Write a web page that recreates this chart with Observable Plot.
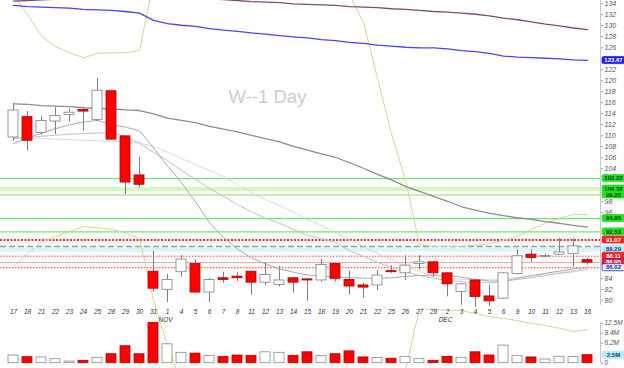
<!DOCTYPE html>
<html><head><meta charset="utf-8">
<script src="https://cdn.jsdelivr.net/npm/d3@7"></script>
<script src="https://cdn.jsdelivr.net/npm/@observablehq/plot@0.6"></script>
<style>
body{margin:0;background:#fff;}
#wrap{position:relative;width:624px;height:368px;overflow:hidden;background:#fff;}
#wrap svg{position:absolute;left:0;}
</style>
</head><body>
<div id="wrap"></div>
<script>
// ---------- data ----------
const dates = ["2019-10-17","2019-10-18","2019-10-21","2019-10-22","2019-10-23","2019-10-24","2019-10-25","2019-10-28","2019-10-29","2019-10-30","2019-10-31",
"2019-11-01","2019-11-04","2019-11-05","2019-11-06","2019-11-07","2019-11-08","2019-11-11","2019-11-12","2019-11-13","2019-11-14","2019-11-15","2019-11-18","2019-11-19","2019-11-20","2019-11-21","2019-11-22","2019-11-25","2019-11-26","2019-11-27","2019-11-29",
"2019-12-02","2019-12-03","2019-12-04","2019-12-05","2019-12-06","2019-12-09","2019-12-10","2019-12-11","2019-12-12","2019-12-13","2019-12-16"];
const dayLabels = ["17","18","21","22","23","24","25","28","29","30","31","1","4","5","6","7","8","11","12","13","14","15","18","19","20","21","22","25","26","27","29","2","3","4","5","6","9","10","11","12","13","16"];
const monthTicks = ["2019-11-01","2019-12-02"];
const monthLabels = ["NOV","DEC"];

const open  = [109.7,113.4,110.5,112.6,113.8,114.7,112.9,118.1,109.9,102.8,85.3,82.0,85.2,86.7,81.5,84.1,84.4,85.3,83.3,82.9,84.1,83.9,83.7,86.7,83.8,82.8,82.8,85.4,85.0,86.7,87.0,85.0,81.6,83.7,80.8,80.4,84.9,88.4,87.95,88.4,88.5,87.4];
const high  = [115.9,114.4,113.5,115.1,114.9,115.1,120.4,118.3,110.0,106.1,89.0,84.8,88.2,87.5,84.1,85.2,85.2,85.4,86.9,86.2,84.2,84.0,87.5,86.9,85.4,83.2,85.5,86.4,88.2,88.2,87.1,85.1,83.2,83.8,82.8,85.1,89.3,89.3,88.5,91.3,91.3,87.8];
const low   = [109.0,107.2,110.1,110.2,112.5,110.8,112.6,109.2,99.3,100.5,81.6,79.7,84.3,81.4,79.7,83.2,83.5,81.0,82.8,82.5,81.4,79.9,83.4,83.4,81.1,80.5,81.9,85.0,83.7,85.6,84.3,80.7,79.2,78.8,79.0,80.3,84.7,87.0,87.8,88.3,86.2,86.5];
const close = [114.6,109.1,112.7,113.6,114.2,114.4,118.2,109.3,101.5,101.1,82.2,83.8,87.5,81.5,83.8,83.8,84.1,83.3,84.7,83.7,83.3,83.7,86.5,84.0,82.6,82.4,84.6,85.2,86.4,87.0,85.0,83.0,83.0,80.7,79.9,85.0,88.1,87.8,88.15,88.8,89.9,86.95];
const volumeM = [2.4,1.9,1.8,1.25,0.5,0.75,1.7,2.8,5.3,2.8,12.6,5.9,3.25,3.0,2.3,1.9,2.4,2.3,3.4,3.25,2.3,3.4,2.2,2.8,3.7,1.8,1.6,1.4,2.0,1.25,0.75,2.0,1.7,3.4,2.4,5.5,2.3,1.8,1.15,2.0,1.9,2.5];

const maBlue   = [133.7,133.5,133.4,133.3,133.2,133.0,132.9,132.8,132.6,132.3,131.0,130.4,130.1,129.9,129.5,129.2,129.0,128.7,128.5,128.2,128.0,127.8,127.5,127.3,127.0,126.8,126.5,126.3,126.1,126.0,126.0,125.8,125.5,125.3,125.0,124.5,124.3,124.2,124.1,124.0,123.8,123.7];
const maPurple = [134.5,134.6,134.7,134.8,134.9,135.0,135.0,135.0,135.0,135.0,135.0,135.0,135.0,135.0,134.9,134.75,134.6,134.4,134.3,134.2,134.0,133.9,133.8,133.7,133.5,133.4,133.3,133.1,133.0,132.8,132.6,132.5,132.3,132.1,131.8,131.4,131.1,130.7,130.3,130.0,129.6,129.3];
const maDark   = [115.8,115.7,115.5,115.4,115.3,115.1,115.0,114.9,114.7,114.6,114.0,113.2,112.8,112.4,111.7,111.2,110.7,110.1,109.5,108.9,108.1,107.4,106.7,106.1,105.1,104.1,103.0,102.0,100.8,99.9,99.0,98.1,97.1,96.5,95.9,95.5,95.1,94.8,94.4,94.1,93.7,93.4];
const ma10     = [108.6,109.6,110.5,111.3,112.0,112.5,112.8,112.0,111.6,110.9,107.8,104.5,101.5,98.0,94.2,91.5,89.4,87.8,86.7,85.8,85.2,84.7,84.5,84.3,84.2,84.1,84.1,84.2,84.4,84.6,84.7,84.6,84.3,83.9,83.6,83.6,84.1,84.6,85.0,85.4,85.8,86.1];
const ma15     = [109.5,109.7,109.9,110.1,110.3,110.4,110.5,110.6,109.9,108.6,107.0,105.5,103.7,102.1,100.4,99.0,97.5,96.2,95.0,94.1,93.0,91.9,91.3,90.6,89.1,88.1,87.0,86.1,85.3,84.6,84.1,83.7,83.5,83.3,83.3,83.5,83.9,84.2,84.6,85.0,85.3,85.7];
const ma20     = [109.7,109.6,109.5,109.4,109.3,109.2,109.1,109.0,108.9,108.7,108.1,107.0,105.9,104.8,103.7,102.6,101.1,99.7,98.4,97.3,96.1,94.8,93.7,92.4,91.1,89.9,88.6,87.5,86.4,85.3,84.4,84.1,83.9,83.9,83.9,84.1,84.2,84.4,84.8,85.1,85.5,85.9];
const bbUpper  = [135.5,132.1,128.2,126.2,125.1,124.2,125.0,125.1,125.1,125.5,138.0,142.0,145.0,147.0,148.0,148.0,147.0,146.0,145.0,143.0,141.0,139.5,138.0,136.8,135.7,130.6,120.4,110.4,101.9,90.2,89.9,89.9,89.9,90.1,90.4,91.0,91.7,93.0,94.1,95.0,95.7,95.7];
const bbLower  = [86.2,88.6,90.6,91.7,92.6,93.5,93.3,93.0,92.4,91.3,80.1,71.9,65.0,62.0,60.5,60.0,60.5,61.0,61.5,62.0,62.5,63.0,63.5,64.0,64.5,65.0,65.5,66.0,67.5,78.6,78.4,78.3,78.2,77.7,77.1,76.8,76.4,75.9,75.5,75.0,74.4,74.8];

// axis ticks that are visible in the reference (others sit behind value boxes)
const priceTicks = [80,82,84,96,98,104,106,108,110,112,114,116,118,120,122,126,128,130,132,134];
const greenLevels = [102.22, 94.95, 92.53];
const paleGreenBand = [100.32];
const paleGreenLine = [99.25];
const redDottedThick = [91.07];
const greyDashed = [89.87];
const cyanBand = [89.29];
const redDottedThin = [88.11, 86.02];
const pinkLine = [86.95];

const priceLabelValues = [123.67, 102.22, 100.32, 99.25, 94.95, 92.53, 91.07, 89.29, 88.11, 86.95, 86.02];
const priceLabelTexts  = ["123.67","102.22","100.32","99.25","94.95","92.53","91.07","89.29","88.11","86.95","86.02"];
const priceLabelKinds  = ["blue","green","green","green","green","green","red","cyan","red","redblue","white"];

const volTicks = [0, 6.25e6, 9.375e6, 12.5e6];
const volTickLabels = ["0","6.2M","9.4M","12.5M"];
const volLabelValue = [2.5e6];
const volLabelText = ["2.5M"];

// ---------- build ----------
const rows = dates.map((d, i) => ({date: d, open: open[i], high: high[i], low: low[i], close: close[i], vol: volumeM[i] * 1e6, up: close[i] >= open[i]}));
const series = (arr) => dates.map((d, i) => ({date: d, v: arr[i]}));

const xOpts = {type: "band", domain: dates, paddingInner: 0.27, paddingOuter: 0.05, axis: null, label: null};
const W = 624;
const font = "Liberation Sans, Arial, sans-serif";

const price = Plot.plot({
  width: W, height: 368, marginTop: 0, marginLeft: 0, marginRight: 24, marginBottom: 63,
  style: {background: "transparent", fontFamily: font, fontSize: "7px", fontStyle: "italic", color: "#444", overflow: "hidden"},
  x: xOpts,
  y: {domain: [79.15, 134.6], axis: null, label: null},
  marks: [
    Plot.text(["W--1 Day"], {frameAnchor: "top-left", dx: 267, dy: 97, text: d => d, fontSize: 18.5, fontStyle: "normal", fill: "#cdcdcd", textAnchor: "middle", lineAnchor: "middle", fontFamily: font}),
    Plot.ruleY(paleGreenBand, {stroke: "#d3f6c2", strokeWidth: 4}),
    Plot.ruleY(paleGreenLine, {stroke: "#c4f0b2", strokeWidth: 2}),
    Plot.ruleY(greenLevels, {stroke: "#6fe86f", strokeWidth: 1.2}),
    Plot.ruleY(cyanBand, {stroke: "#d8f6ff", strokeWidth: 4}),
    Plot.ruleY(redDottedThick, {stroke: "#ff2a2a", strokeWidth: 2, strokeDasharray: "2,1.5"}),
    Plot.ruleY(greyDashed, {stroke: "#9a9a9a", strokeWidth: 1.5, strokeDasharray: "6,3"}),
    Plot.ruleY(redDottedThin, {stroke: "#ff4040", strokeWidth: 1, strokeDasharray: "1.5,1.5"}),
    Plot.ruleY(pinkLine, {stroke: "#f3a3a3", strokeWidth: 1}),
    Plot.line(series(bbUpper), {x: "date", y: "v", stroke: "#d6d49c", strokeWidth: 1}),
    Plot.line(series(bbLower), {x: "date", y: "v", stroke: "#d6d49c", strokeWidth: 1}),
    Plot.line(series(ma20), {x: "date", y: "v", stroke: "#cccccc", strokeWidth: 1, strokeDasharray: "1,1.5"}),
    Plot.line(series(ma15), {x: "date", y: "v", stroke: "#c2c2c2", strokeWidth: 1}),
    Plot.line(series(ma10), {x: "date", y: "v", stroke: "#ababab", strokeWidth: 1}),
    Plot.line(series(maDark), {x: "date", y: "v", stroke: "#8c8c8c", strokeWidth: 1.3}),
    Plot.line(series(maBlue), {x: "date", y: "v", stroke: "#4646f5", strokeWidth: 1.3}),
    Plot.line(series(maPurple), {x: "date", y: "v", stroke: "#7b4c7a", strokeWidth: 1.3}),
    Plot.ruleX(rows, {x: "date", y1: "low", y2: "high", stroke: "#7f7f7f", strokeWidth: 1}),
    Plot.barY(rows, {x: "date", y1: "open", y2: "close", fill: d => d.up ? "#ffffff" : "#ff0000", stroke: d => d.up ? "#808080" : "#b00000", strokeWidth: 0.8}),
    Plot.axisY({anchor: "right", ticks: priceTicks, tickSize: 2, tickPadding: 2, stroke: "#999", fontSize: 7, fill: "#555", label: null}),
    Plot.axisX({anchor: "bottom", tickSize: 0, tickPadding: 4, tickFormat: d => dayLabels[dates.indexOf(d)], fontSize: 6.5, fill: "#333", label: null}),
    Plot.axisX({anchor: "bottom", ticks: monthTicks, tickSize: 0, tickPadding: 11.5, tickFormat: d => monthLabels[monthTicks.indexOf(d)], fontSize: 6.5, fill: "#333", dx: -2, label: null})
  ]
});

const vol = Plot.plot({
  width: W, height: 50, marginTop: 4.7, marginBottom: 5.3, marginLeft: 0, marginRight: 24,
  style: {background: "transparent", fontFamily: font, fontSize: "7px", fontStyle: "italic", color: "#444"},
  x: xOpts,
  y: {domain: [0, 12.5e6], axis: null, label: null},
  marks: [
    Plot.barY(rows, {x: "date", y: "vol", fill: d => d.up ? "#ffffff" : "#ff0000", stroke: d => d.up ? "#8a8a8a" : "#b00000", strokeWidth: 0.8}),
    Plot.axisY({anchor: "right", ticks: volTicks, tickSize: 2, tickPadding: 2, tickFormat: d => volTickLabels[volTicks.indexOf(d)], stroke: "#999", fontSize: 6.5, fill: "#555", label: null})
  ]
});

const wrap = document.getElementById("wrap");
price.style.top = "0px";
vol.style.top = "318px";
wrap.appendChild(price);
wrap.appendChild(vol);

// right axis lines + value boxes drawn with the plots' own scales
const kindStyle = {
  blue: {bg: "#1f1ff0", fg: "#ffffff", st: "#1f1ff0"},
  green: {bg: "#22e022", fg: "#0a3a0a", st: "#22e022"},
  red: {bg: "#ff2020", fg: "#ffffff", st: "#ff2020"},
  cyan: {bg: "#b4ecff", fg: "#25406a", st: "#b4ecff"},
  redblue: {bg: "#ff2020", fg: "#ffffff", st: "#2030d0"},
  white: {bg: "#eef0ff", fg: "#2030a0", st: "#2030d0"}
};
function decorate(plot, values, texts, kinds) {
  const xs = plot.scale("x"), ys = plot.scale("y");
  const xr = xs.range[1];
  const svg = d3.select(plot);
  svg.append("line").attr("x1", xr + 0.5).attr("x2", xr + 0.5)
    .attr("y1", ys.range[1]).attr("y2", ys.range[0]).attr("stroke", "#c8c8c8");
  const g = svg.append("g").style("font-style", "normal");
  values.forEach((v, i) => {
    const yy = ys.apply(v);
    const s = kindStyle[kinds[i]];
    g.append("rect").attr("x", xr + 2).attr("y", yy - 3.5).attr("width", 23).attr("height", 7)
      .attr("rx", 1.5).attr("fill", s.bg).attr("stroke", s.st).attr("stroke-width", 0.8);
    g.append("text").attr("x", xr + 13.5).attr("y", yy).attr("dy", "0.35em")
      .attr("text-anchor", "middle").attr("font-size", 6).attr("font-weight", "bold")
      .attr("font-family", font).attr("fill", s.fg).text(texts[i]);
  });
}
decorate(price, priceLabelValues, priceLabelTexts, priceLabelKinds);
decorate(vol, volLabelValue, volLabelText, ["cyan"]);
</script>
</body></html>
